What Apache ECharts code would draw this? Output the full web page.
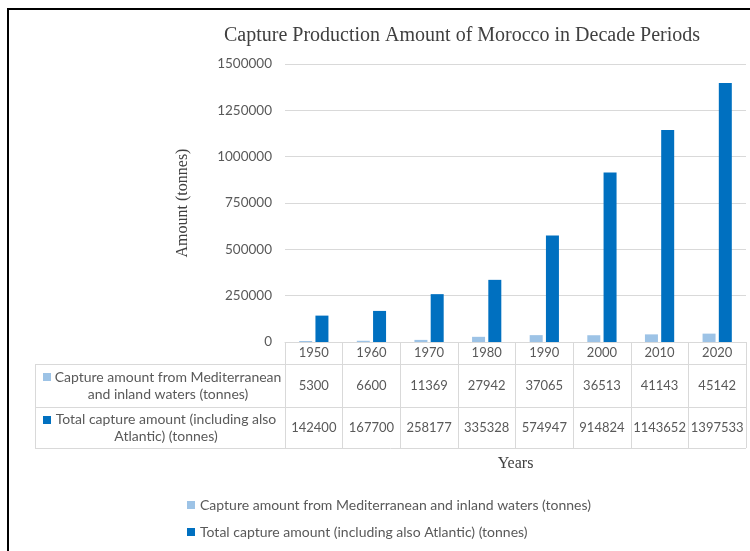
<!DOCTYPE html>
<html>
<head>
<meta charset="utf-8">
<script src="https://cdn.jsdelivr.net/npm/echarts@6/dist/echarts.min.js"></script>
<style>
  html, body { margin: 0; padding: 0; background: #fff; }
  #chart { width: 750px; height: 551px; }
</style>
</head>
<body>
<div id="chart"></div>
<script>
var years = ['1950', '1960', '1970', '1980', '1990', '2000', '2010', '2020'];
var medValues = [5300, 6600, 11369, 27942, 37065, 36513, 41143, 45142];
var totalValues = [142400, 167700, 258177, 335328, 574947, 914824, 1143652, 1397533];
var seriesNames = [
  'Capture amount from Mediterranean and inland waters (tonnes)',
  'Total capture amount (including also Atlantic) (tonnes)'
];
var rowLabels = [
  'Capture amount from Mediterranean\nand inland waters (tonnes)',
  'Total capture amount (including also\nAtlantic) (tonnes)'
];
var yMax = 1500000;
var yStep = 250000;

var colors = ['#9DC3E6', '#0070C0'];
var textGray = '#595959';
var lineGray = '#D9D9D9';
var sans = 'Lato';
var serif = 'Liberation Serif';

// grid / table layout
var gLeft = 285, gRight = 746, gTop = 64, gBottom = 342;
var rowH = [22, 43, 41];
var tableLeft = 35;
var row1Top = gBottom + rowH[0];
var row2Top = row1Top + rowH[1];
var tableBottom = row2Top + rowH[2];

var chart = echarts.init(document.getElementById('chart'));

function tableAxis(data, offset, tickLen, margin, extra) {
  var ax = {
    type: 'category',
    gridIndex: 0,
    position: 'bottom',
    offset: offset,
    data: data,
    boundaryGap: true,
    axisLine: { show: true, lineStyle: { color: lineGray, width: 1 } },
    axisTick: { show: true, interval: 0, length: tickLen, alignWithLabel: false, lineStyle: { color: lineGray } },
    axisLabel: { interval: 0, margin: margin, color: textGray, fontFamily: sans, fontSize: 13 },
    splitLine: { show: false }
  };
  if (extra) Object.assign(ax, extra);
  return ax;
}

var hLine = function (y, x1, x2) {
  return { type: 'line', shape: { x1: x1, y1: y, x2: x2, y2: y }, style: { stroke: lineGray, lineWidth: 1 }, silent: true };
};

var option = {
  animation: false,
  title: {
    text: 'Capture Production Amount of Morocco in Decade Periods',
    left: 219,
    top: 21,
    textStyle: { fontFamily: serif, fontWeight: 'normal', fontSize: 20, color: '#404040' }
  },
  legend: {
    orient: 'vertical',
    left: 182,
    top: 493,
    itemWidth: 8,
    itemHeight: 8,
    itemGap: 13,
    icon: 'rect',
    textStyle: { color: textGray, fontFamily: sans, fontSize: 14 },
    data: seriesNames
  },
  grid: { left: gLeft, right: 750 - gRight, top: gTop, bottom: 551 - gBottom, containLabel: false },
  xAxis: [
    tableAxis(years, 0, rowH[0], 4),
    tableAxis(medValues.map(String), rowH[0], rowH[1], 15),
    tableAxis(totalValues.map(String), rowH[0] + rowH[1], rowH[2], 14, {
      name: 'Years',
      nameLocation: 'middle',
      nameGap: 49,
      nameTextStyle: { fontFamily: serif, fontSize: 16, color: '#404040' }
    })
  ],
  yAxis: {
    type: 'value',
    min: 0,
    max: yMax,
    interval: yStep,
    name: 'Amount (tonnes)',
    nameLocation: 'middle',
    nameGap: 94,
    nameTextStyle: { fontFamily: serif, fontSize: 16, color: '#404040' },
    axisLine: { show: false },
    axisTick: { show: false },
    axisLabel: { color: textGray, fontFamily: sans, fontSize: 13.5, margin: 13, formatter: function (v) { return String(v); } },
    splitLine: { lineStyle: { color: lineGray, width: 1 } }
  },
  series: [
    {
      name: seriesNames[0],
      type: 'bar',
      xAxisIndex: 0,
      data: medValues,
      barWidth: 13,
      barGap: '25%',
      itemStyle: { color: colors[0] }
    },
    {
      name: seriesNames[1],
      type: 'bar',
      xAxisIndex: 0,
      data: totalValues,
      barWidth: 13,
      barGap: '25%',
      itemStyle: { color: colors[1] }
    }
  ],
  graphic: [
    // outer frame
    { type: 'line', shape: { x1: 7, y1: 9, x2: 750, y2: 9 }, style: { stroke: '#000', lineWidth: 2 }, silent: true },
    { type: 'line', shape: { x1: 8, y1: 8, x2: 8, y2: 551 }, style: { stroke: '#000', lineWidth: 2 }, silent: true },
    // data table left column
    hLine(row1Top + 0.5, tableLeft, gLeft),
    hLine(row2Top + 0.5, tableLeft, gLeft),
    hLine(tableBottom + 0.5, tableLeft, gRight),
    { type: 'line', shape: { x1: tableLeft + 0.5, y1: row1Top, x2: tableLeft + 0.5, y2: tableBottom + 1 }, style: { stroke: lineGray, lineWidth: 1 }, silent: true },
    { type: 'rect', shape: { x: 43, y: row1Top + 9, width: 8, height: 8 }, style: { fill: colors[0] }, silent: true },
    { type: 'rect', shape: { x: 43, y: row2Top + 9, width: 8, height: 8 }, style: { fill: colors[1] }, silent: true },
    {
      type: 'text', x: 168, y: row1Top + rowH[1] / 2,
      style: { text: rowLabels[0], align: 'center', verticalAlign: 'middle', fill: textGray, font: '14px ' + sans, lineHeight: 17 },
      silent: true
    },
    {
      type: 'text', x: 166, y: row2Top + rowH[2] / 2,
      style: { text: rowLabels[1], align: 'center', verticalAlign: 'middle', fill: textGray, font: '14px ' + sans, lineHeight: 17 },
      silent: true
    }
  ]
};

chart.setOption(option);
</script>
</body>
</html>
